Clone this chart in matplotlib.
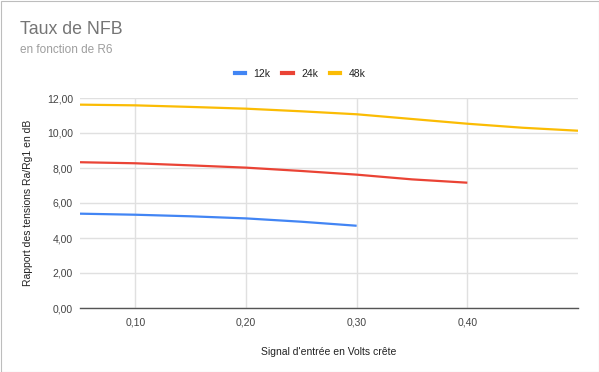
import matplotlib
matplotlib.use("Agg")
import matplotlib.pyplot as plt
from matplotlib.patches import Rectangle
from matplotlib.lines import Line2D

x_12k = [0.05, 0.10, 0.15, 0.20, 0.25, 0.30]
y_12k = [5.39, 5.33, 5.24, 5.12, 4.93, 4.70]
x_24k = [0.05, 0.10, 0.15, 0.20, 0.25, 0.30, 0.35, 0.40]
y_24k = [8.33, 8.27, 8.15, 8.02, 7.83, 7.62, 7.35, 7.16]
x_48k = [0.05, 0.10, 0.15, 0.20, 0.25, 0.30, 0.35, 0.40, 0.45, 0.50]
y_48k = [11.62, 11.58, 11.49, 11.39, 11.24, 11.07, 10.80, 10.53, 10.30, 10.13]
x_ticks = [0.10, 0.20, 0.30, 0.40]
y_ticks = [0, 2, 4, 6, 8, 10, 12]

plt.rcParams['font.family'] = ['Liberation Sans', 'DejaVu Sans']

W, H = 599, 372
fig = plt.figure(figsize=(W/100, H/100), dpi=100)
fig.patches.append(Rectangle((0.5/W, 0.5/H), 1-1/W, 1-1/H, transform=fig.transFigure,
                             fill=False, edgecolor='#bdbdbd', lw=0.8))

ax = fig.add_axes([80/W, 1-308/H, (578-80)/W, (308-98)/H])
series = [(x_12k, y_12k, '#4285f4', '12k'), (x_24k, y_24k, '#ea4335', '24k'),
          (x_48k, y_48k, '#fbbc04', '48k')]
for xs, ys, c, lab in series:
    ax.plot(xs, ys, color=c, lw=1.6, solid_capstyle='butt', zorder=3)

ax.set_xlim(0.05, 0.50)
ax.set_ylim(0, 12)
ax.set_xticks(x_ticks)
ax.set_xticklabels([f"{v:.2f}".replace('.', ',') for v in x_ticks])
ax.set_yticks(y_ticks)
ax.set_yticklabels([f"{v:.2f}".replace('.', ',') for v in y_ticks])
ax.grid(True, color='#e0e0e0', lw=1)
ax.set_axisbelow(True)
for s in ['top', 'right', 'left']:
    ax.spines[s].set_visible(False)
ax.spines['bottom'].set_color('#555555')
ax.spines['bottom'].set_linewidth(1)
ax.spines['bottom'].set_zorder(2)
ax.tick_params(length=0, labelsize=7.5, labelcolor='#444444')
ax.tick_params(axis='x', pad=7)
ax.tick_params(axis='y', pad=5)
ax.set_xlabel("Signal d'entrée en Volts crête", fontsize=7.5, color='#222222', labelpad=14)
ax.set_ylabel("Rapport des tensions Ra/Rg1 en dB", fontsize=7.5, color='#222222', labelpad=10)

fig.text(20/W, 1-29/H, "Taux de NFB", fontsize=12.8, color='#757575', va='center', ha='left')
fig.text(20/W, 1-50/H, "en fonction de R6", fontsize=8.5, color='#9e9e9e', va='center', ha='left')

handles = [Line2D([], [], color=c, lw=3) for _, _, c, _ in series]
labels = [lab for *_, lab in series]
fig.legend(handles, labels, loc='center', bbox_to_anchor=(300/W, 1-74/H), ncol=3, frameon=False,
           fontsize=7.5, handlelength=1.0, handletextpad=0.8, columnspacing=1.15,
           labelcolor='#222222')

fig.savefig("out.png", dpi=100)
